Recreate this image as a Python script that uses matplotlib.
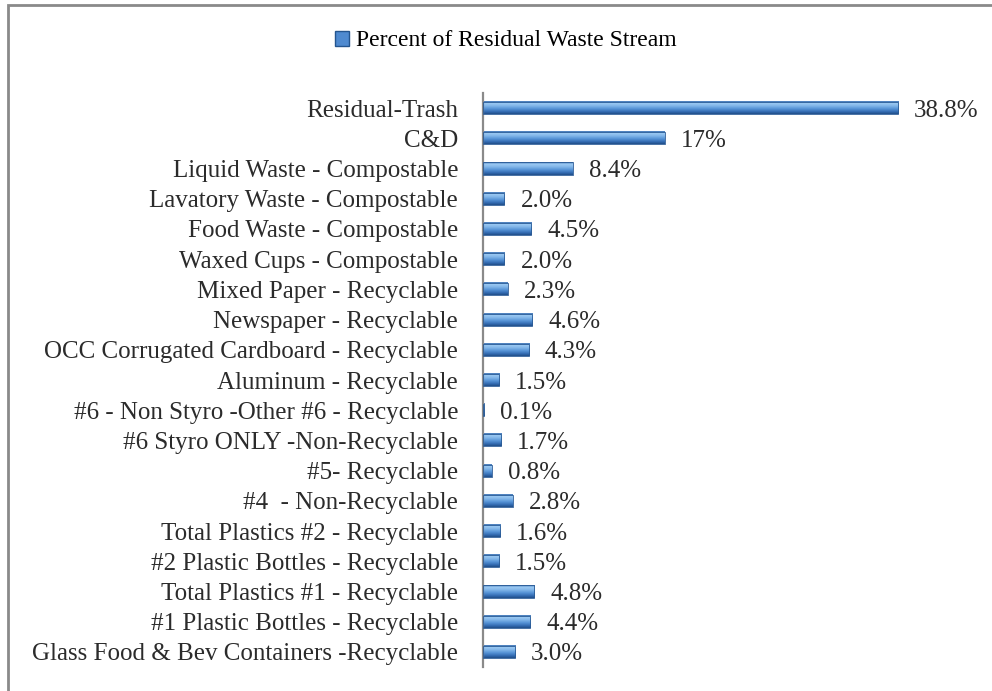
import matplotlib.pyplot as plt
import numpy as np
from matplotlib.colors import LinearSegmentedColormap
from matplotlib.patches import Patch, Rectangle

categories = [
    "Residual-Trash",
    "C&D",
    "Liquid Waste - Compostable",
    "Lavatory Waste - Compostable",
    "Food Waste - Compostable",
    "Waxed Cups - Compostable",
    "Mixed Paper - Recyclable",
    "Newspaper - Recyclable",
    "OCC Corrugated Cardboard - Recyclable",
    "Aluminum - Recyclable",
    "#6 - Non Styro -Other #6 - Recyclable",
    "#6 Styro ONLY -Non-Recyclable",
    "#5- Recyclable",
    "#4  - Non-Recyclable",
    "Total Plastics #2 - Recyclable",
    "#2 Plastic Bottles - Recyclable",
    "Total Plastics #1 - Recyclable",
    "#1 Plastic Bottles - Recyclable",
    "Glass Food & Bev Containers -Recyclable",
]
percent = [38.8, 17, 8.4, 2.0, 4.5, 2.0, 2.3, 4.6, 4.3, 1.5,
           0.1, 1.7, 0.8, 2.8, 1.6, 1.5, 4.8, 4.4, 3.0]
value_labels = ["38.8%", "17%", "8.4%", "2.0%", "4.5%", "2.0%", "2.3%", "4.6%",
                "4.3%", "1.5%", "0.1%", "1.7%", "0.8%", "2.8%", "1.6%", "1.5%",
                "4.8%", "4.4%", "3.0%"]
legend_label = "Percent of Residual Waste Stream"

plt.rcParams['font.family'] = ['Liberation Serif', 'DejaVu Serif']
FS = 18
TXT = "#2b2b2b"

# bevelled blue look: dark top edge, light band, mid blue, dark bottom
bar_cmap = LinearSegmentedColormap.from_list(
    "bevel", [(0.0, "#3a6fb0"), (0.15, "#9ccaf3"), (0.35, "#84b8ea"),
              (0.6, "#5592d6"), (0.85, "#3068ae"), (1.0, "#214d86")])
grad = np.linspace(0, 1, 64).reshape(-1, 1)

fig = plt.figure(figsize=(9.92, 6.91), dpi=100)
ax = fig.add_axes([0.4869, 0.0347, 0.4854, 0.8307])

n = len(categories)
ypos = np.arange(n)[::-1]
h = 0.4
for y, v in zip(ypos, percent):
    ax.imshow(grad, cmap=bar_cmap, aspect='auto', interpolation='bilinear',
              extent=(0, v, y - h / 2, y + h / 2), zorder=2)
    ax.add_patch(Rectangle((0, y - h / 2), v, h, fill=False,
                           edgecolor="#2a5b96", lw=0.6, zorder=3))

for y, v, lab in zip(ypos, percent, value_labels):
    ax.annotate(lab, (v, y), xytext=(11.5, 0), textcoords='offset points',
                va='center_baseline', ha='left', fontsize=FS, color=TXT)

ax.set_xlim(0, 45)
ax.set_ylim(-0.5, n - 0.5)
ax.set_yticks(ypos)
ax.set_yticklabels(categories, fontsize=FS, color=TXT, va='center_baseline')
ax.tick_params(axis='y', length=0, pad=18)
ax.set_xticks([])
for s in ['top', 'right', 'bottom']:
    ax.spines[s].set_visible(False)
ax.spines['left'].set_color("#8a8a8a")
ax.spines['left'].set_linewidth(1.6)

fig.legend(handles=[Patch(facecolor="#4f8ad0", edgecolor="#24558f", label=legend_label)],
           loc='center', bbox_to_anchor=(0.51, 1 - 41 / 691), frameon=False,
           fontsize=17, handlelength=0.6, handleheight=0.6, handletextpad=0.3)

# chart frame
fig.add_artist(Rectangle((8 / 992, -0.1), 1.2, 1.1 - 5 / 691, transform=fig.transFigure,
                         fill=False, edgecolor="#8a8a8a", lw=2))

fig.savefig("out.png", dpi=100)
